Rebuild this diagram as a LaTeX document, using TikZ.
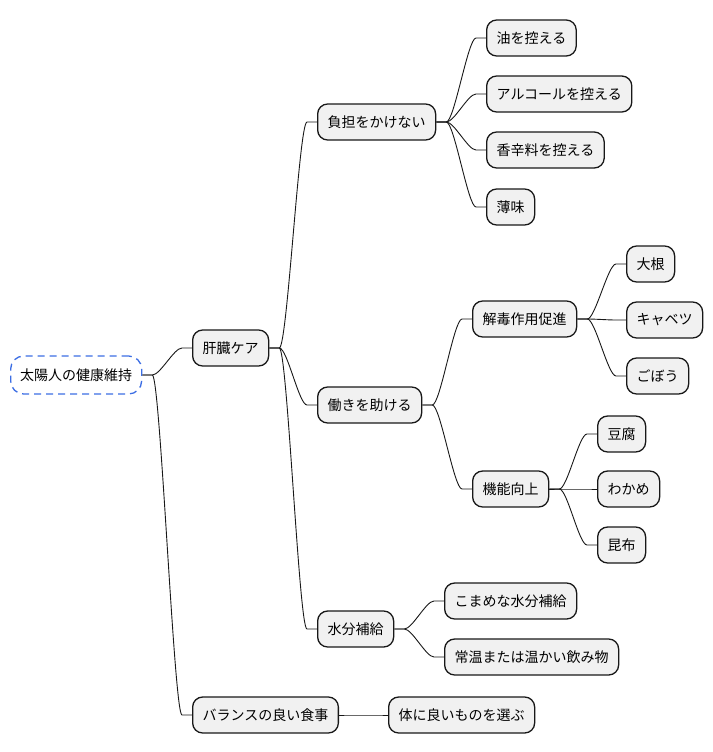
\documentclass[tikz,border=0pt]{standalone}
\usepackage{fontspec}
\newfontfamily\jpfont{Noto Sans CJK JP}
\usetikzlibrary{calc}
\definecolor{boxgray}{RGB}{241,241,241}
\definecolor{rootblue}{RGB}{60,110,228}
\definecolor{edgegray}{RGB}{24,24,24}
\tikzset{
  mmbox/.style={draw=edgegray, fill=boxgray, line width=1.3pt, rounded corners=10pt,
    minimum height=36pt, inner xsep=10pt, inner ysep=0pt, anchor=west,
    font=\jpfont\fontsize{14}{16}\selectfont},
  mmroot/.style={mmbox, draw=rootblue, fill=white, dash pattern=on 7pt off 5pt,
    rounded corners=13pt, minimum height=38pt, inner xsep=9.5pt},
  mmlink/.style={draw=edgegray, line width=0.9pt}
}
\newcommand\mmlnk[2]{%
  \draw[mmlink] let \p1=(#1.east), \p2=(#2.west) in
    (\p1) -- (\x1+10pt,\y1) .. controls (\x1+18pt,\y1) and (\x2-18pt,\y2) ..
    (\x2-10pt,\y2) -- (\p2);}
\begin{document}
\begin{tikzpicture}[x=1pt,y=-1pt]
\useasboundingbox (0,0) rectangle (712,752);
\node[mmroot] (root) at (10,375) {太陽人の健康維持};
\node[mmbox] (liver) at (192,348) {肝臓ケア};
\node[mmbox] (futan) at (317,122) {負担をかけない};
\node[mmbox] (abura) at (486,38) {油を控える};
\node[mmbox] (alc) at (486,94) {アルコールを控える};
\node[mmbox] (spice) at (486,150) {香辛料を控える};
\node[mmbox] (usuaji) at (486,207) {薄味};
\node[mmbox] (hataraki) at (317,405) {働きを助ける};
\node[mmbox] (gedoku) at (472,319) {解毒作用促進};
\node[mmbox] (daikon) at (626,264) {大根};
\node[mmbox] (cabbage) at (626,320) {キャベツ};
\node[mmbox] (gobo) at (626,376) {ごぼう};
\node[mmbox] (kinou) at (472,489) {機能向上};
\node[mmbox] (tofu) at (597,434) {豆腐};
\node[mmbox] (wakame) at (597,489) {わかめ};
\node[mmbox] (konbu) at (597,545) {昆布};
\node[mmbox] (water) at (317,629) {水分補給};
\node[mmbox] (komame) at (444,601) {こまめな水分補給};
\node[mmbox] (jouon) at (444,657) {常温または温かい飲み物};
\node[mmbox] (balance) at (192,715) {バランスの良い食事};
\node[mmbox] (erabu) at (388,715) {体に良いものを選ぶ};
\mmlnk{root}{liver}
\mmlnk{root}{balance}
\mmlnk{liver}{futan}
\mmlnk{liver}{hataraki}
\mmlnk{liver}{water}
\mmlnk{futan}{abura}
\mmlnk{futan}{alc}
\mmlnk{futan}{spice}
\mmlnk{futan}{usuaji}
\mmlnk{hataraki}{gedoku}
\mmlnk{hataraki}{kinou}
\mmlnk{gedoku}{daikon}
\mmlnk{gedoku}{cabbage}
\mmlnk{gedoku}{gobo}
\mmlnk{kinou}{tofu}
\mmlnk{kinou}{wakame}
\mmlnk{kinou}{konbu}
\mmlnk{water}{komame}
\mmlnk{water}{jouon}
\mmlnk{balance}{erabu}
\end{tikzpicture}
\end{document}
